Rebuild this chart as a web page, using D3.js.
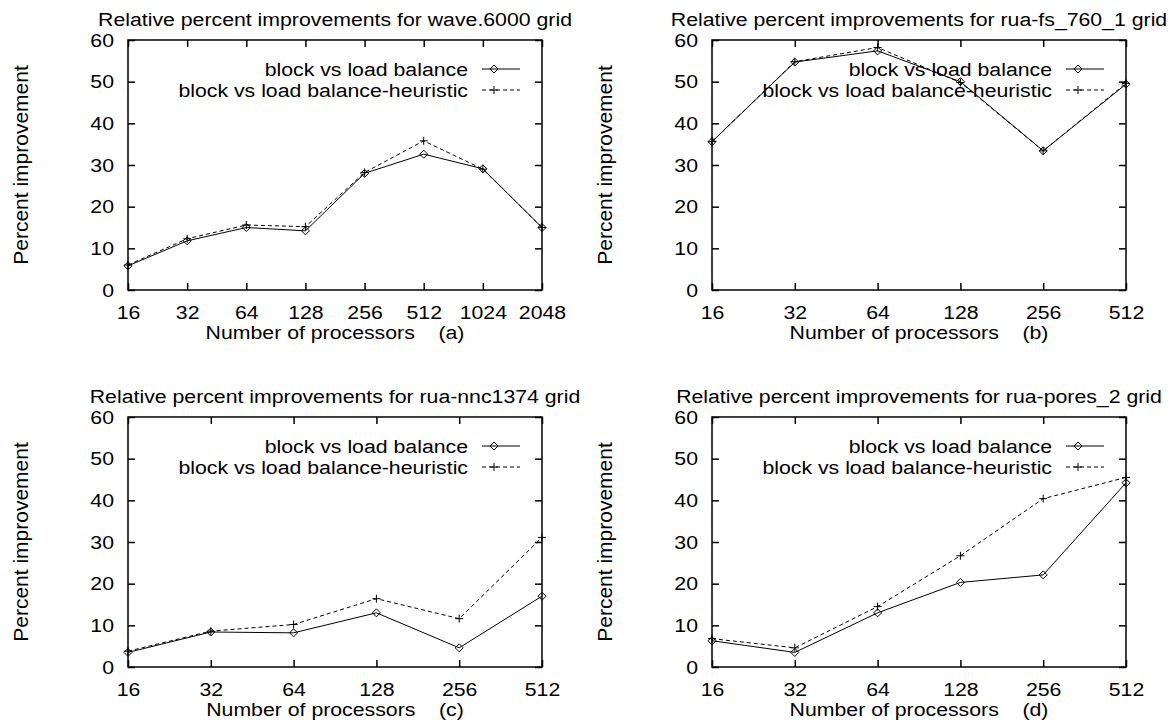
<!DOCTYPE html>
<html>
<head>
<meta charset="utf-8">
<script src="https://cdn.jsdelivr.net/npm/d3@7"></script>
<style>
  body { margin: 0; background: #fff; }
  text { font-family: "Liberation Sans", Arial, Helvetica, sans-serif; fill: #000; }
</style>
</head>
<body>
<script>
// values
const procsA = [16, 32, 64, 128, 256, 512, 1024, 2048];
const procsB = [16, 32, 64, 128, 256, 512];

const waveLB = [5.8, 11.8, 15.0, 14.2, 28.0, 32.6, 29.1, 15.0];
const waveLBH = [6.0, 12.3, 15.6, 15.2, 28.2, 35.8, 29.0, 15.0];

const fsLB = [35.6, 54.7, 57.4, 50.0, 33.4, 49.4];
const fsLBH = [35.6, 54.8, 58.2, 49.8, 33.4, 49.6];

const nncLB = [3.5, 8.4, 8.2, 13.0, 4.6, 17.0];
const nncLBH = [3.8, 8.6, 10.2, 16.4, 11.6, 31.1];

const poresLB = [6.3, 3.5, 13.0, 20.3, 22.1, 44.2];
const poresLBH = [6.8, 4.6, 14.5, 26.7, 40.4, 45.5];

const yTicks = [0, 10, 20, 30, 40, 50, 60];
const seriesNames = ["block vs load balance", "block vs load balance-heuristic"];

const panels = [
  { title: "Relative percent improvements for wave.6000 grid", tag: "(a)", x: procsA, s: [waveLB, waveLBH], left: 128, top: 40 },
  { title: "Relative percent improvements for rua-fs_760_1 grid", tag: "(b)", x: procsB, s: [fsLB, fsLBH], left: 712, top: 40 },
  { title: "Relative percent improvements for rua-nnc1374 grid", tag: "(c)", x: procsB, s: [nncLB, nncLBH], left: 128, top: 417 },
  { title: "Relative percent improvements for rua-pores_2 grid", tag: "(d)", x: procsB, s: [poresLB, poresLBH], left: 712, top: 417 }
];

const width = 1172, height = 723;
const pw = 414, ph = 250;
const sx = 1.12; // the text in the picture is a little wider than it is tall

const svg = d3.create("svg")
    .attr("width", width)
    .attr("height", height)
    .attr("viewBox", [0, 0, width, height]);
document.body.appendChild(svg.node());

function diamond(g, cx, cy) {
  g.append("path")
    .attr("d", `M${cx - 4},${cy}L${cx},${cy - 4}L${cx + 4},${cy}L${cx},${cy + 4}Z`)
    .attr("fill", "none").attr("stroke", "#000").attr("stroke-width", 1);
}
function plus(g, cx, cy) {
  g.append("path")
    .attr("d", `M${cx - 4},${cy}H${cx + 4}M${cx},${cy - 4}V${cy + 4}`)
    .attr("fill", "none").attr("stroke", "#000").attr("stroke-width", 1);
}
const markers = [diamond, plus];
const dashes = [null, "4,3"];

function label(g, str, x, y, anchor, size) {
  g.append("text")
    .attr("transform", `translate(${x},${y}) scale(${sx},1)`)
    .attr("text-anchor", anchor)
    .attr("font-size", size || 19)
    .style("white-space", "pre")
    .text(str);
}

panels.forEach(p => {
  const g = svg.append("g").attr("transform", `translate(${p.left},${p.top})`);

  const x = d3.scaleLog().base(2)
      .domain([p.x[0], p.x[p.x.length - 1]])
      .range([0, pw]);
  const y = d3.scaleLinear().domain([0, 60]).range([ph, 0]);

  // axes with inward ticks, mirrored on top and right
  const styleAxis = (sel) => {
    sel.select(".domain").remove();
    sel.selectAll("line").attr("stroke", "#000").attr("stroke-width", 1.5);
    sel.selectAll("text").attr("font-size", 19).attr("fill", "#000")
      .attr("font-family", null)
      .attr("transform", `scale(${sx},1)`);
  };

  g.append("g")
    .call(d3.axisLeft(y).tickValues(yTicks).tickSize(-7).tickPadding(5))
    .call(styleAxis)
    .selectAll("text").attr("x", -12.5);
  g.append("g").attr("transform", `translate(${pw},0)`)
    .call(d3.axisRight(y).tickValues(yTicks).tickSize(-7).tickFormat(""))
    .call(styleAxis);
  g.append("g").attr("transform", `translate(0,${ph})`)
    .call(d3.axisBottom(x).tickValues(p.x).tickSize(-7).tickFormat(d3.format("d")))
    .call(styleAxis)
    .selectAll("text").attr("y", 16);
  g.append("g")
    .call(d3.axisTop(x).tickValues(p.x).tickSize(-7).tickFormat(""))
    .call(styleAxis);

  g.append("rect")
    .attr("width", pw).attr("height", ph)
    .attr("fill", "none").attr("stroke", "#000").attr("stroke-width", 1.5);

  // series
  p.s.forEach((vals, i) => {
    const pts = vals.map((v, j) => [x(p.x[j]), y(v)]);
    g.append("path")
      .attr("d", d3.line()(pts))
      .attr("fill", "none").attr("stroke", "#000").attr("stroke-width", 1)
      .attr("stroke-dasharray", dashes[i]);
    pts.forEach(pt => markers[i](g, pt[0], pt[1]));
  });

  // legend
  seriesNames.forEach((name, i) => {
    const ly = 29 + i * 21;
    label(g, name, pw - 74, ly + 6.5, "end");
    g.append("line")
      .attr("x1", pw - 60).attr("x2", pw - 22)
      .attr("y1", ly).attr("y2", ly)
      .attr("stroke", "#000").attr("stroke-width", 1)
      .attr("stroke-dasharray", dashes[i]);
    markers[i](g, pw - 48, ly);
  });

  // titles
  label(g, p.title, pw / 2, -14, "middle");
  label(g, "Number of processors    " + p.tag, pw / 2, ph + 49, "middle");
  g.append("text")
    .attr("transform", `translate(-100,${ph / 2}) rotate(-90)`)
    .attr("text-anchor", "middle")
    .attr("font-size", 21)
    .text("Percent improvement");
});
</script>
</body>
</html>
